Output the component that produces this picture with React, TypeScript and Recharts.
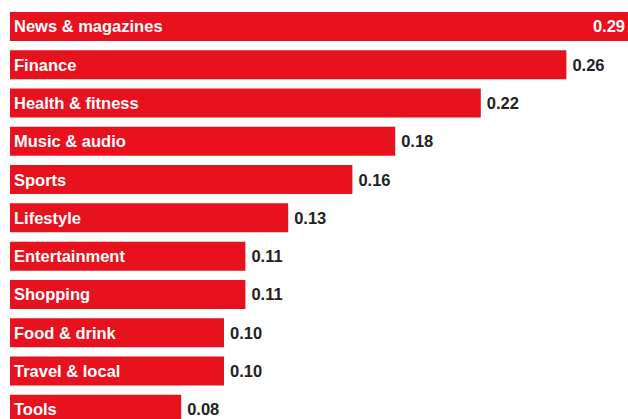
import React from "react";
import { BarChart, Bar, XAxis, YAxis, LabelList } from "recharts";

const categories = [
  "News & magazines",
  "Finance",
  "Health & fitness",
  "Music & audio",
  "Sports",
  "Lifestyle",
  "Entertainment",
  "Shopping",
  "Food & drink",
  "Travel & local",
  "Tools",
];
const values = [0.29, 0.26, 0.22, 0.18, 0.16, 0.13, 0.11, 0.11, 0.1, 0.1, 0.08];

const data = categories.map((name, i) => ({ name, value: values[i] }));

const RED = "#e8111e";
const FONT = "'Liberation Sans', Arial, sans-serif";
const FS = 16.5;
const VIEW_W = 628;

function ValueLabel(props: any) {
  const { x, y, width, height, value } = props;
  const text = Number(value).toFixed(2);
  const end = x + width;
  const cy = y + height / 2;
  const inside = end + 40 > VIEW_W;
  return (
    <text
      x={inside ? VIEW_W - 3 : end + 6}
      y={cy}
      dy="0.36em"
      textAnchor={inside ? "end" : "start"}
      fill={inside ? "#fff" : "#222"}
      fontSize={FS}
      fontWeight={700}
      fontFamily={FONT}
    >
      {text}
    </text>
  );
}

function NameLabel(props: any) {
  const { x, y, height, value } = props;
  return (
    <text
      x={x + 4}
      y={y + height / 2}
      dy="0.36em"
      fill="#fff"
      fontSize={FS}
      fontWeight={700}
      fontFamily={FONT}
    >
      {value}
    </text>
  );
}

export default function App() {
  return (
    <div
      style={{
        position: "absolute",
        left: 0,
        top: 0,
        width: 628,
        height: 419,
        overflow: "hidden",
        background: "#fff",
      }}
    >
      <BarChart
        width={652}
        height={428}
        data={data}
        layout="vertical"
        margin={{ top: 7, right: 0, bottom: 0, left: 10 }}
      >
        <XAxis type="number" domain={[0, 0.3]} hide />
        <YAxis type="category" dataKey="name" hide />
        <Bar
          dataKey="value"
          fill={RED}
          barSize={29}
          isAnimationActive={false}
        >
          <LabelList dataKey="name" content={NameLabel} />
          <LabelList dataKey="value" content={ValueLabel} />
        </Bar>
      </BarChart>
    </div>
  );
}
